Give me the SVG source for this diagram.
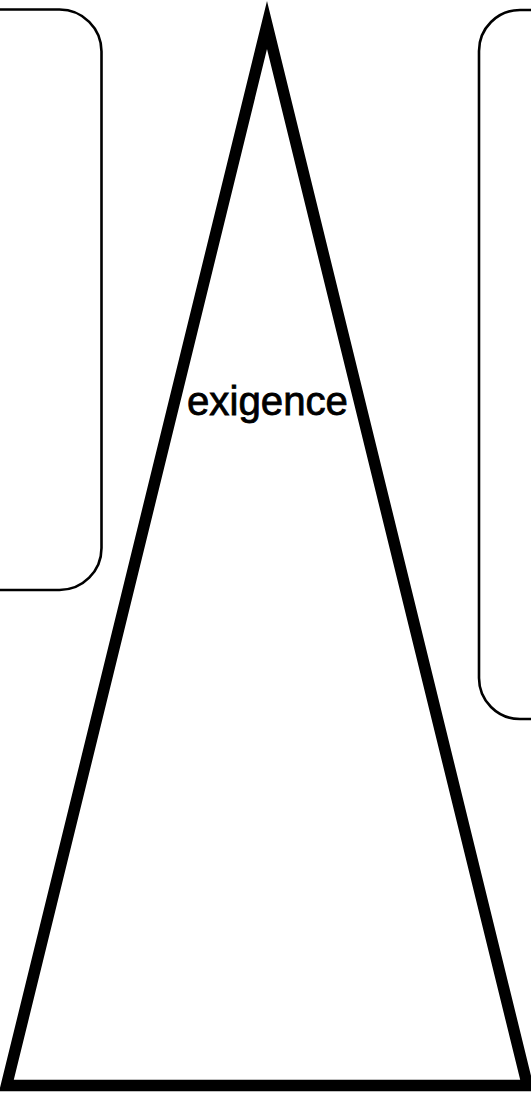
<svg xmlns="http://www.w3.org/2000/svg" width="531" height="1093" viewBox="0 0 531 1093">
<style>
.box{fill:none;stroke:#000;stroke-width:2.6}
.tri{fill:#fff;stroke:#000;stroke-width:11.5;stroke-linejoin:miter;stroke-miterlimit:10}
.lbl{font-family:"Liberation Sans",Arial,sans-serif;font-size:40px;fill:#000;stroke:#000;stroke-width:0.8}
</style>
<rect width="531" height="1093" fill="#fff"/>
<g id="left-box"><rect class="box" x="-60" y="9.5" width="161.5" height="580.5" rx="42" ry="42"/></g>
<g id="right-box"><rect class="box" x="479" y="10" width="120" height="709" rx="41" ry="41"/></g>
<g id="triangle">
<path class="tri" d="M267 25 L527.5 1085.5 L6.5 1085.5 Z"/>
<text class="lbl" x="187" y="415" textLength="161" lengthAdjust="spacingAndGlyphs">exigence</text>
</g>
<g id="connectors"/>
</svg>
